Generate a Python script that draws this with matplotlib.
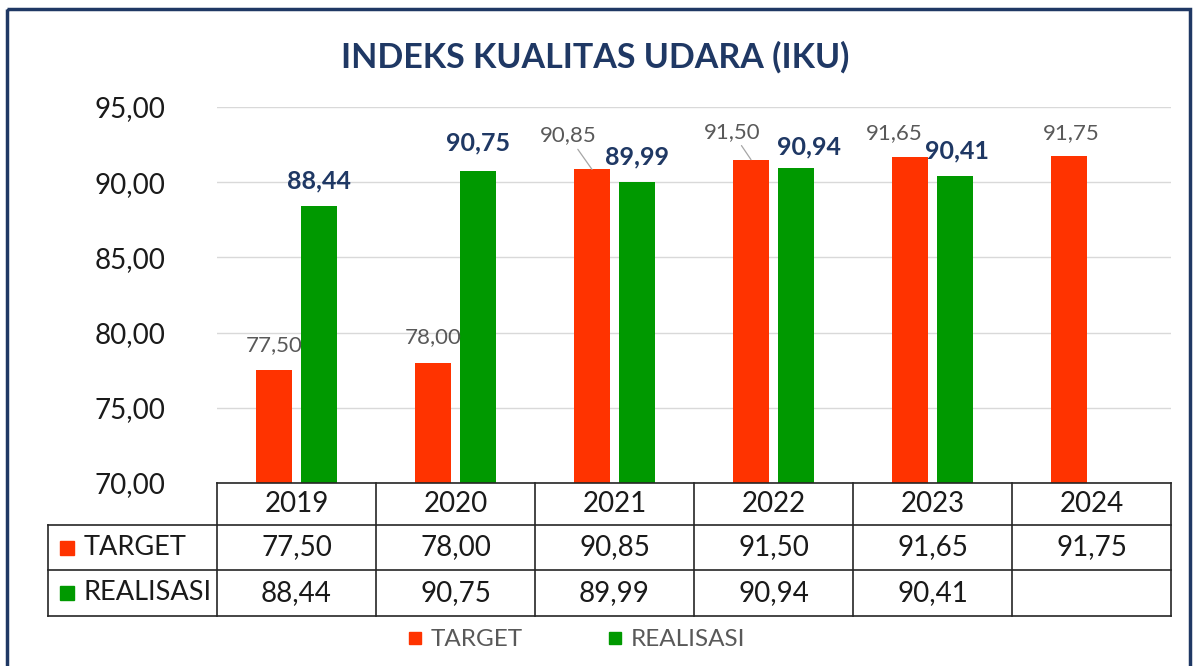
import matplotlib
matplotlib.use('Agg')
import matplotlib.pyplot as plt
import matplotlib.transforms as mtransforms
from matplotlib.patches import Rectangle

plt.rcParams['font.family'] = ['Lato', 'DejaVu Sans']

# ---- data ----
years = ['2019', '2020', '2021', '2022', '2023', '2024']
target = [77.50, 78.00, 90.85, 91.50, 91.65, 91.75]
realisasi = [88.44, 90.75, 89.99, 90.94, 90.41]

# label offsets in pixels (dx, dy) relative to bar top
target_offsets = [(0, 25), (0, 26), (-24, 34), (-19, 28), (-16, 24), (2, 23)]
realisasi_offsets = [(0, 25), (0, 28), (0, 25), (13, 21), (2, 25)]
target_leader = [False, False, True, True, False, False]

C_TARGET = '#FF3300'
C_REAL = '#009900'
NAVY = '#1F3864'
GRAY = '#595959'
TXT = '#1A1A1A'


def fmt(v):
    return f'{v:.2f}'.replace('.', ',')


W, H = 1195, 666
fig = plt.figure(figsize=(W / 100, H / 100), dpi=100)
ax = fig.add_axes([217 / W, 1 - 483 / H, (1171 - 217) / W, (483 - 107) / H])

# pixel transform (origin top-left)
pxt = mtransforms.Affine2D().scale(1 / W, -1 / H).translate(0, 1) + fig.transFigure
colt = mtransforms.blended_transform_factory(ax.transData, pxt)

bw = 0.226
off = 0.1415
xs = list(range(len(years)))

ax.bar([x - off for x in xs], target, bw, color=C_TARGET, zorder=2)
ax.bar([x + off for x in xs[:len(realisasi)]], realisasi, bw, color=C_REAL, zorder=2)

# data labels
for x, v, (dx, dy), lead in zip(xs, target, target_offsets, target_leader):
    kw = {}
    if lead:
        kw['arrowprops'] = dict(arrowstyle='-', color='#A6A6A6', lw=0.9,
                                shrinkA=1, shrinkB=0)
    ax.annotate(fmt(v), xy=(x - off, v), xytext=(dx, dy), textcoords='offset pixels',
                ha='center', va='center', fontsize=16, color=GRAY, **kw)

for x, v, (dx, dy) in zip(xs, realisasi, realisasi_offsets):
    ax.annotate(fmt(v), xy=(x + off, v), xytext=(dx, dy), textcoords='offset pixels',
                ha='center', va='center', fontsize=18, color=NAVY, fontweight='bold')

ax.set_xlim(-0.5, len(years) - 0.5)
ax.set_ylim(70, 95)
ax.set_yticks([70, 75, 80, 85, 90, 95])
ax.set_yticklabels([fmt(t) for t in [70, 75, 80, 85, 90, 95]])
ax.set_xticks([])
ax.tick_params(axis='y', length=0, pad=37, labelsize=20, labelcolor=TXT)
ax.yaxis.grid(True, color='#D9D9D9', lw=1)
ax.set_axisbelow(True)
for s in ax.spines.values():
    s.set_visible(False)

# title
fig.text(595 / W, 1 - 57 / H, 'INDEKS KUALITAS UDARA (IKU)', ha='center', va='center',
         fontsize=24.5, fontweight='bold', color=NAVY)

# ---- data table ----
row_y = [483, 525, 570, 616]
xl = -0.5 - (217 - 48) / 159
xr = len(years) - 0.5
lk = dict(color='#262626', lw=1.2, clip_on=False)

ax.plot([-0.5, xr], [row_y[0]] * 2, transform=colt, **lk)
for y in row_y[1:]:
    ax.plot([xl, xr], [y, y], transform=colt, **lk)
for k in range(len(years) + 1):
    ax.plot([k - 0.5] * 2, [row_y[0], row_y[3]], transform=colt, **lk)
ax.plot([xl, xl], [row_y[1], row_y[3]], transform=colt, **lk)

for x, yr, t in zip(xs, years, target):
    ax.text(x, (row_y[0] + row_y[1]) / 2, yr, transform=colt, ha='center', va='center',
            fontsize=20, color=TXT, clip_on=False)
    ax.text(x, (row_y[1] + row_y[2]) / 2, fmt(t), transform=colt, ha='center',
            va='center', fontsize=20, color=TXT, clip_on=False)
for x, r in zip(xs, realisasi):
    ax.text(x, (row_y[2] + row_y[3]) / 2, fmt(r), transform=colt, ha='center',
            va='center', fontsize=20, color=TXT, clip_on=False)

for (name, c), (y0, y1) in zip([('TARGET', C_TARGET), ('REALISASI', C_REAL)],
                               [(row_y[1], row_y[2]), (row_y[2], row_y[3])]):
    yc = (y0 + y1) / 2
    fig.add_artist(Rectangle((60, yc - 7), 14, 14, transform=pxt, color=c))
    fig.text(84 / W, 1 - yc / H, name, ha='left', va='center', fontsize=19.5, color=TXT)

# ---- legend ----
for (name, c), lx in zip([('TARGET', C_TARGET), ('REALISASI', C_REAL)], [409, 609]):
    fig.add_artist(Rectangle((lx, 632), 12, 12, transform=pxt, color=c))
    fig.text((lx + 22) / W, 1 - 639 / H, name, ha='left', va='center',
             fontsize=17.5, color=GRAY)

# outer border
fig.add_artist(Rectangle((7, 9), 1183, 700, transform=pxt, fill=False,
                         edgecolor=NAVY, lw=2.5, clip_on=False))

fig.savefig('out.png', dpi=100)
